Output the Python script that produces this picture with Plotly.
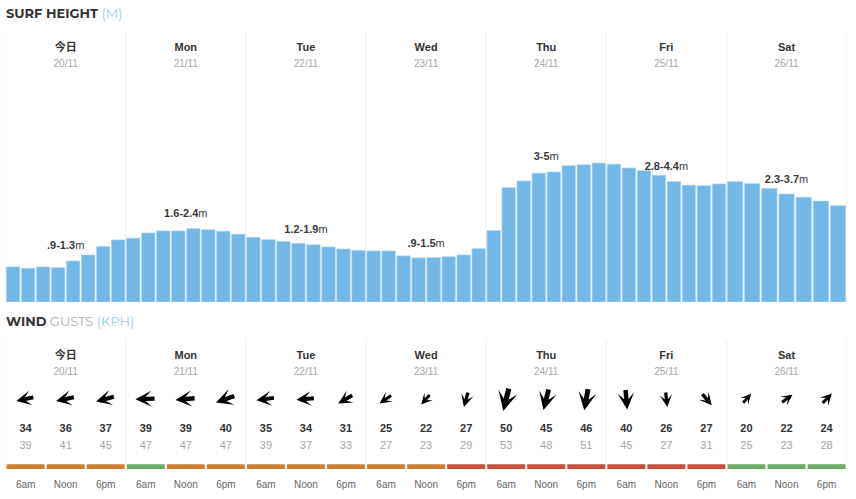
import math
import plotly.graph_objects as go

# ---- data ----
days = ["今日", "Mon", "Tue", "Wed", "Thu", "Fri", "Sat"]
dates = ["20/11", "21/11", "22/11", "23/11", "24/11", "25/11", "26/11"]
surf_ranges = [".9-1.3", "1.6-2.4", "1.2-1.9", ".9-1.5", "3-5", "2.8-4.4", "2.3-3.7"]
surf_today = [1.21, 1.16, 1.21, 1.18, 1.41, 1.62, 1.91, 2.14]
surf_mon = [2.20, 2.38, 2.45, 2.45, 2.53, 2.49, 2.44, 2.34]
surf_tue = [2.23, 2.15, 2.09, 2.02, 1.97, 1.90, 1.83, 1.78]
surf_wed = [1.76, 1.76, 1.59, 1.52, 1.53, 1.56, 1.62, 1.84]
surf_thu = [2.46, 3.94, 4.17, 4.44, 4.48, 4.70, 4.73, 4.79]
surf_fri = [4.75, 4.62, 4.53, 4.37, 4.15, 4.03, 4.01, 4.07]
surf_sat = [4.15, 4.08, 3.91, 3.72, 3.61, 3.48, 3.32]
surf_by_day = [surf_today, surf_mon, surf_tue, surf_wed, surf_thu, surf_fri, surf_sat]
range_label_heights = [1.93, 3.03, 2.46, 1.99, 4.99, 4.65, 4.20]

wind_speed = [34, 36, 37, 39, 39, 40, 35, 34, 31, 25, 22, 27, 50, 45, 46, 40, 26, 27, 20, 22, 24]
wind_gust = [39, 41, 45, 47, 47, 47, 39, 37, 33, 27, 23, 29, 53, 48, 51, 45, 27, 31, 25, 23, 28]
wind_bearing = [258, 258, 255, 268, 265, 250, 262, 265, 240, 235, 222, 196, 194, 194, 190, 175, 174, 140, 42, 54, 44]
wind_rating = ["ok", "ok", "ok", "good", "ok", "ok", "ok", "ok", "ok", "ok", "ok", "bad",
               "bad", "bad", "bad", "bad", "bad", "bad", "good", "good", "good"]
time_labels = ["6am", "Noon", "6pm"]

# ---- style / layout constants ----
W, H = 856, 499
LEFT, RIGHT = 5.6, 846.6
PX_PER_M = 29.0
SURF_TOP, SURF_BASE = 32, 302
WIND_TOP = 339
BLUE = "#73b7e6"
RATING_COLORS = {"ok": "#cf7f32", "good": "#6bad67", "bad": "#cb4f3f"}
SANS = "Liberation Sans, Noto Sans CJK SC, sans-serif"
HEAD = "Montserrat, Inter, sans-serif"
px_per_day = (RIGHT - LEFT) / 7

fig = go.Figure()

# surf bars
xs, ys, ws = [], [], []
for d, vals in enumerate(surf_by_day):
    n = len(vals)
    for i, v in enumerate(vals):
        xs.append(d + (i + 0.5) / n)
        ys.append(v)
        ws.append(0.89 / n)
fig.add_trace(go.Bar(x=xs, y=ys, width=ws, marker=dict(color=BLUE, line=dict(color="#a5d2f0", width=0.7)),
                     xaxis="x", yaxis="y", hoverinfo="y", showlegend=False))

# surf range labels
fig.add_trace(go.Scatter(x=[d + 0.5 for d in range(7)], y=range_label_heights, mode="text",
                         text=[f"<b>{r}</b>m" for r in surf_ranges],
                         textfont=dict(family=SANS, size=11, color="#3a3a3a"),
                         xaxis="x", yaxis="y", hoverinfo="skip", showlegend=False))

# day headers
def header(xa, ya, y_day, y_date):
    fig.add_trace(go.Scatter(x=[d + 0.5 for d in range(7)], y=[y_day] * 7, mode="text",
                             text=[f"<b>{t}</b>" for t in days],
                             textfont=dict(family=SANS, size=11, color="#333333"),
                             xaxis=xa, yaxis=ya, hoverinfo="skip", showlegend=False))
    fig.add_trace(go.Scatter(x=[d + 0.5 for d in range(7)], y=[y_date] * 7, mode="text",
                             text=dates, textfont=dict(family=SANS, size=10, color="#a6a6a6"),
                             xaxis=xa, yaxis=ya, hoverinfo="skip", showlegend=False))

to_m = lambda py: (SURF_BASE - py) / PX_PER_M
header("x", "y", to_m(48), to_m(64.5))
header("x2", "y2", 356, 372.5)

# wind slots
slot_x = [d + (i + 0.5) / 3 for d in range(7) for i in range(3)]
fig.add_trace(go.Bar(x=slot_x, y=[4.7] * 21, base=[464.3] * 21, width=[0.316] * 21,
                     marker=dict(color=[RATING_COLORS[r] for r in wind_rating], line=dict(width=0)),
                     xaxis="x2", yaxis="y2", hoverinfo="skip", showlegend=False))
for vals, py, col, bold in [(wind_speed, 429.5, "#333333", True), (wind_gust, 446.5, "#a6a6a6", False)]:
    fig.add_trace(go.Scatter(x=slot_x, y=[py] * 21, mode="text",
                             text=[f"<b>{v}</b>" if bold else str(v) for v in vals],
                             textfont=dict(family=SANS, size=11, color=col),
                             xaxis="x2", yaxis="y2", hoverinfo="skip", showlegend=False))
fig.add_trace(go.Scatter(x=slot_x, y=[485] * 21, mode="text",
                         text=[time_labels[i % 3] for i in range(21)],
                         textfont=dict(family=SANS, size=10, color="#666666"),
                         xaxis="x2", yaxis="y2", hoverinfo="skip", showlegend=False))

annotations = [
    dict(xref="paper", yref="paper", x=4 / W, y=1 - 13.5 / H, xanchor="left", yanchor="middle", showarrow=False,
         text='<b>SURF HEIGHT</b> <span style="color:#9ccdee">(M)</span>',
         font=dict(family=HEAD, size=13, color="#333333")),
    dict(xref="paper", yref="paper", x=4 / W, y=1 - 321 / H, xanchor="left", yanchor="middle", showarrow=False,
         text='<b>WIND</b> <span style="color:#b0b0b0">GUSTS</span> <span style="color:#9ccdee">(KPH)</span>',
         font=dict(family=HEAD, size=13, color="#333333")),
]
# wind arrows, size driven by wind speed and direction by bearing
ARROW_Y = 399
for x, sp, br in zip(slot_x, wind_speed, wind_bearing):
    L = 0.35 * sp + 7
    ux, uy = math.sin(math.radians(br)), -math.cos(math.radians(br))
    annotations.append(dict(
        xref="x2", yref="y2", x=x + ux * L / 2 / px_per_day, y=ARROW_Y + uy * L / 2,
        axref="pixel", ayref="pixel", ax=-ux * L, ay=-uy * L,
        text="", showarrow=True, arrowhead=3, arrowsize=0.62, arrowwidth=1.2 + sp / 50 * 4,
        arrowcolor="#000000", standoff=0, startstandoff=0))

shapes = []
for d in range(8):
    for yr, y0, y1 in [("y", to_m(SURF_TOP), 0), ("y2", WIND_TOP, 464)]:
        shapes.append(dict(type="line", xref="x" if yr == "y" else "x2", yref=yr, x0=d, x1=d, y0=y0, y1=y1,
                           line=dict(color="#eeeeee", width=1), layer="below"))

hidden = dict(visible=False, fixedrange=True)
fig.update_layout(
    width=W, height=H, margin=dict(l=0, r=0, t=0, b=0), paper_bgcolor="white", plot_bgcolor="white",
    showlegend=False, barmode="overlay", annotations=annotations, shapes=shapes,
    xaxis=dict(domain=[LEFT / W, RIGHT / W], range=[0, 7], anchor="y", **hidden),
    yaxis=dict(domain=[1 - SURF_BASE / H, 1 - SURF_TOP / H], range=[0, to_m(SURF_TOP)], anchor="x", **hidden),
    xaxis2=dict(domain=[LEFT / W, RIGHT / W], range=[0, 7], anchor="y2", **hidden),
    yaxis2=dict(domain=[0, 1 - WIND_TOP / H], range=[H, WIND_TOP], anchor="x2", **hidden),
)
fig.write_html("out.html", config={"displayModeBar": False},
               post_script="document.body.style.margin='0';document.body.style.overflow='hidden';")
